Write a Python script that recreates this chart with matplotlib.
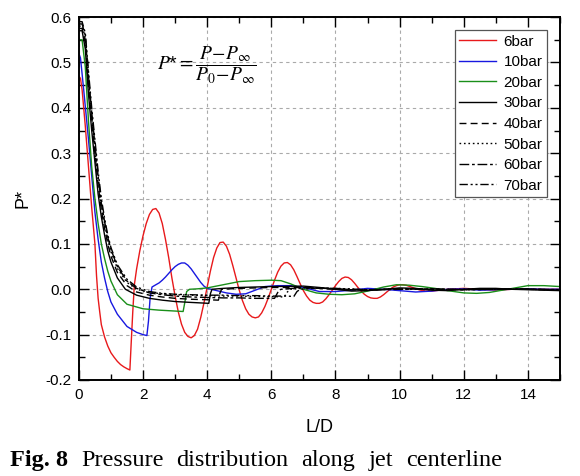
import matplotlib.pyplot as plt
from matplotlib.ticker import MultipleLocator, FormatStrFormatter

plt.rcParams['font.family'] = ['Liberation Sans', 'DejaVu Sans']
plt.rcParams['axes.unicode_minus'] = False
plt.rcParams['mathtext.fontset'] = 'stix'

# ---- data ----
x6 = [0.0, 0.05, 0.1, 0.15, 0.2, 0.25, 0.3, 0.35, 0.4, 0.45, 0.5, 0.55, 0.6, 0.65, 0.7, 0.8, 0.9, 1.0, 1.1,
      1.2, 1.3, 1.4, 1.5, 1.59, 1.63, 1.68, 1.73, 1.8, 1.9, 2.0, 2.1, 2.2, 2.3, 2.4, 2.5, 2.6, 2.7, 2.8, 2.9,
      3.0, 3.1, 3.2, 3.3, 3.4, 3.5, 3.6, 3.7, 3.8, 3.9, 4.0, 4.1, 4.2, 4.3, 4.4, 4.5, 4.6, 4.7, 4.8, 4.9,
      5.0, 5.1, 5.2, 5.3, 5.4, 5.5, 5.6, 5.7, 5.8, 5.9, 6.0, 6.1, 6.2, 6.3, 6.4, 6.5, 6.6, 6.7, 6.8, 6.9,
      7.0, 7.1, 7.2, 7.3, 7.4, 7.5, 7.6, 7.7, 7.8, 7.9, 8.0, 8.1, 8.2, 8.3, 8.4, 8.5, 8.6, 8.7, 8.8, 8.9,
      9.0, 9.1, 9.2, 9.3, 9.4, 9.5, 9.6, 9.7, 9.8, 9.9, 10.0, 10.1, 10.2, 10.4, 10.6, 10.8, 11.0, 11.5,
      12.0, 12.5, 13.0, 13.5, 14.0, 14.5, 15.0]
y6 = [0.47, 0.465, 0.44, 0.40, 0.36, 0.315, 0.27, 0.225, 0.18, 0.14, 0.10, 0.03, -0.02, -0.05, -0.078,
      -0.105, -0.125, -0.14, -0.15, -0.159, -0.166, -0.171, -0.175, -0.178, -0.12, -0.05, 0.01, 0.045,
      0.085, 0.118, 0.145, 0.165, 0.176, 0.178, 0.168, 0.145, 0.11, 0.07, 0.025, -0.015, -0.05, -0.077,
      -0.095, -0.104, -0.107, -0.102, -0.088, -0.062, -0.03, 0.005, 0.04, 0.07, 0.091, 0.103, 0.104, 0.095,
      0.077, 0.052, 0.025, -0.002, -0.025, -0.043, -0.055, -0.061, -0.063, -0.061, -0.052, -0.038, -0.02,
      0.0, 0.02, 0.038, 0.051, 0.058, 0.059, 0.054, 0.043, 0.028, 0.012, -0.003, -0.015, -0.024, -0.029,
      -0.031, -0.031, -0.028, -0.021, -0.012, -0.002, 0.008, 0.017, 0.024, 0.027, 0.026, 0.021, 0.013,
      0.004, -0.004, -0.011, -0.016, -0.019, -0.02, -0.02, -0.017, -0.012, -0.006, 0.0, 0.005, 0.008, 0.01,
      0.01, 0.009, 0.004, -0.001, -0.004, -0.004, 0.0, 0.002, 0.0, -0.002, 0.0, 0.001, 0.0, 0.0]

x10 = [0.0, 0.05, 0.15, 0.3, 0.4, 0.5, 0.6, 0.7, 0.8, 0.9, 1.0, 1.2, 1.5, 1.8, 2.0, 2.12, 2.17, 2.22, 2.28,
       2.4, 2.5, 2.6, 2.7, 2.8, 2.9, 3.0, 3.1, 3.2, 3.3, 3.4, 3.5, 3.6, 3.7, 3.8, 3.9, 4.0, 4.3, 4.6, 4.9,
       5.2, 5.5, 5.8, 6.2, 6.6, 7.0, 7.5, 8.0, 8.5, 9.0, 9.5, 10.0, 10.5, 11.0, 11.5, 12.0, 12.5, 13.0,
       13.5, 14.0, 14.5, 15.0]
y10 = [0.52, 0.51, 0.44, 0.33, 0.25, 0.17, 0.11, 0.06, 0.025, -0.005, -0.028, -0.055, -0.082, -0.095, -0.1,
       -0.102, -0.07, -0.02, 0.005, 0.01, 0.014, 0.02, 0.027, 0.035, 0.043, 0.05, 0.055, 0.058, 0.058, 0.053,
       0.045, 0.035, 0.025, 0.015, 0.007, 0.002, -0.003, -0.008, -0.011, -0.01, -0.002, 0.006, 0.008, 0.008,
       0.004, -0.005, -0.005, -0.002, 0.002, 0.0, -0.003, -0.006, -0.004, 0.0, 0.001, -0.002, -0.001, 0.0,
       0.001, 0.0, 0.0]

x20 = [0.0, 0.1, 0.2, 0.3, 0.4, 0.5, 0.6, 0.7, 0.8, 0.9, 1.0, 1.2, 1.5, 2.0, 2.5, 3.0, 3.25, 3.3, 3.36, 3.45,
       3.7, 4.0, 4.5, 5.0, 5.5, 6.0, 6.3, 6.6, 7.0, 7.4, 7.8, 8.2, 8.6, 9.0, 9.5, 9.9, 10.3, 10.7, 11.1,
       11.5, 12.0, 12.4, 12.8, 13.2, 13.6, 14.0, 14.5, 15.0]
y20 = [0.55, 0.55, 0.49, 0.37, 0.27, 0.2, 0.145, 0.1, 0.068, 0.04, 0.018, -0.012, -0.033, -0.043, -0.046,
       -0.048, -0.049, -0.03, -0.005, 0.0, 0.001, 0.003, 0.01, 0.017, 0.019, 0.02, 0.019, 0.012, 0.0, -0.008,
       -0.011, -0.012, -0.01, -0.004, 0.005, 0.01, 0.009, 0.006, 0.002, -0.003, -0.008, -0.009, -0.007,
       -0.002, 0.003, 0.008, 0.008, 0.006]

x30 = [0.0, 0.1, 0.2, 0.3, 0.4, 0.5, 0.6, 0.7, 0.8, 0.9, 1.0, 1.2, 1.45, 1.8, 2.2, 2.6, 3.0, 3.5, 4.05, 4.1,
       4.15, 4.5, 5.0, 6.0, 7.0, 7.5, 8.0, 8.5, 9.0, 9.5, 10.0, 10.5, 11.0, 11.5, 12.0, 12.5, 13.0, 13.5,
       14.0, 14.5, 15.0]
y30 = [0.57, 0.57, 0.53, 0.43, 0.35, 0.28, 0.21, 0.16, 0.12, 0.085, 0.06, 0.025, 0.0, -0.013, -0.02, -0.024,
       -0.027, -0.029, -0.031, -0.01, 0.0, 0.002, 0.004, 0.006, 0.007, 0.004, 0.0, -0.004, -0.003, 0.0,
       0.003, 0.002, -0.002, -0.003, 0.0, 0.002, 0.002, 0.0, -0.001, -0.002, -0.003]

x40 = [0.0, 0.1, 0.2, 0.3, 0.4, 0.5, 0.6, 0.7, 0.8, 0.9, 1.0, 1.2, 1.5, 1.8, 2.2, 2.6, 3.0, 3.5, 4.0, 4.35,
       4.4, 4.45, 5.0, 6.0, 7.0, 8.0, 9.0, 10.0, 11.0, 12.0, 13.0, 14.0, 15.0]
y40 = [0.575, 0.575, 0.545, 0.45, 0.37, 0.3, 0.23, 0.175, 0.135, 0.1, 0.073, 0.037, 0.008, -0.006, -0.013,
       -0.017, -0.02, -0.022, -0.023, -0.024, -0.008, 0.0, 0.002, 0.004, 0.004, 0.0, -0.002, 0.001, 0.0,
       -0.001, 0.001, 0.0, -0.002]

x50 = [0.0, 0.1, 0.2, 0.3, 0.4, 0.5, 0.6, 0.7, 0.8, 0.9, 1.0, 1.2, 1.5, 1.8, 2.2, 2.6, 3.0, 3.5, 4.0, 4.5,
       5.0, 5.5, 6.0, 6.4, 6.5, 6.6, 7.0, 8.0, 9.0, 10.0, 11.0, 12.0, 13.0, 14.0, 15.0]
y50 = [0.58, 0.58, 0.555, 0.46, 0.38, 0.31, 0.24, 0.185, 0.145, 0.11, 0.083, 0.046, 0.015, 0.0, -0.007,
       -0.01, -0.012, -0.013, -0.014, -0.015, -0.015, -0.016, -0.016, -0.017, -0.006, 0.0, 0.003, 0.002,
       -0.001, 0.001, -0.001, 0.0, 0.001, 0.0, -0.001]

x60 = [0.0, 0.1, 0.2, 0.3, 0.4, 0.5, 0.6, 0.7, 0.8, 0.9, 1.0, 1.2, 1.5, 1.8, 2.2, 2.6, 3.0, 3.5, 4.0, 4.5,
       5.0, 5.5, 6.1, 6.2, 6.3, 7.0, 8.0, 9.0, 10.0, 11.0, 12.0, 13.0, 14.0, 15.0]
y60 = [0.585, 0.585, 0.56, 0.47, 0.39, 0.32, 0.25, 0.19, 0.15, 0.115, 0.088, 0.05, 0.018, 0.002, -0.008,
       -0.012, -0.015, -0.017, -0.018, -0.019, -0.019, -0.02, -0.02, -0.007, 0.0, 0.004, 0.001, -0.002,
       0.0, 0.001, -0.001, 0.0, 0.001, -0.002]

x70 = [0.0, 0.1, 0.2, 0.3, 0.4, 0.5, 0.6, 0.7, 0.8, 0.9, 1.0, 1.2, 1.5, 1.8, 2.2, 2.6, 3.0, 3.5, 4.0, 4.5,
       5.0, 5.5, 6.0, 6.5, 6.7, 6.8, 6.9, 7.5, 8.0, 9.0, 10.0, 11.0, 12.0, 13.0, 14.0, 15.0]
y70 = [0.59, 0.59, 0.565, 0.48, 0.4, 0.33, 0.26, 0.2, 0.157, 0.12, 0.092, 0.054, 0.022, 0.005, -0.005,
       -0.009, -0.011, -0.012, -0.013, -0.013, -0.014, -0.014, -0.015, -0.015, -0.016, -0.005, 0.0, 0.003,
       0.002, -0.001, 0.0, 0.001, -0.001, 0.0, 0.0, -0.001]

labels = ['6bar', '10bar', '20bar', '30bar', '40bar', '50bar', '60bar', '70bar']
caption = ['Fig. 8', 'Pressure', 'distribution', 'along', 'jet', 'centerline']

fig = plt.figure(figsize=(5.8, 4.76), dpi=100)
ax = fig.add_axes([0.136, 0.2017, 0.8295, 0.7623])

lw = 1.0
ax.plot(x6, y6, color='#e8191b', lw=lw, label=labels[0])
ax.plot(x10, y10, color='#1818e0', lw=lw, label=labels[1])
ax.plot(x20, y20, color='#1a8f1a', lw=lw, label=labels[2])
ax.plot(x30, y30, color='black', lw=lw, label=labels[3])
ax.plot(x40, y40, color='black', lw=lw, ls=(0, (5, 3)), label=labels[4])
ax.plot(x50, y50, color='black', lw=lw, ls=(0, (1.2, 2)), label=labels[5])
ax.plot(x60, y60, color='black', lw=lw, ls=(0, (7, 2, 2, 2)), label=labels[6])
ax.plot(x70, y70, color='black', lw=lw, ls=(0, (6, 2, 1.5, 2, 1.5, 2)), label=labels[7])

ax.set_xlim(0, 15)
ax.set_ylim(-0.2, 0.6)
ax.xaxis.set_major_locator(MultipleLocator(2))
ax.xaxis.set_minor_locator(MultipleLocator(1))
ax.yaxis.set_major_locator(MultipleLocator(0.1))
ax.yaxis.set_minor_locator(MultipleLocator(0.05))
ax.yaxis.set_major_formatter(FormatStrFormatter('%.1f'))
ax.tick_params(which='both', direction='in', top=True, right=True, width=1.0)
ax.tick_params(which='major', length=7, labelsize=11)
ax.tick_params(which='minor', length=4)
ax.tick_params(axis='x', pad=6)
ax.tick_params(axis='y', pad=5)
for s in ax.spines.values():
    s.set_linewidth(1.4)

ax.grid(True, which='major', ls=(0, (3, 3)), color='#aaaaaa', lw=0.8)

ax.set_xlabel('L/D', fontsize=13, labelpad=12)
ax.set_ylabel('P*', fontsize=13, labelpad=10)

leg = ax.legend(loc='upper right', fontsize=11, handlelength=2.4, labelspacing=0.43,
                borderaxespad=0.85, fancybox=False, framealpha=1, handletextpad=0.5,
                borderpad=0.3)
leg.get_frame().set_edgecolor('#555555')
leg.get_frame().set_linewidth(0.9)

ax.text(4.0, 0.494, r'$P$*$=\dfrac{P\!-\!P_{\infty}}{P_0\!-\!P_{\infty}}$',
        fontsize=14, ha='center', va='center')

# caption, justified between x=10 and x=502 px
W, H = 580.0, 476.0
left, right, base = 10.0, 502.0, 466.0
words = []
for i, w in enumerate(caption):
    t = fig.text(0, 1 - base / H, w, fontsize=17.5, family='Liberation Serif',
                 fontweight='bold' if i == 0 else 'normal', ha='left', va='baseline')
    words.append(t)
r = fig.canvas.get_renderer()
widths = [t.get_window_extent(r).width for t in words]
gap = (right - left - sum(widths)) / (len(words) - 1)
pos = left
for t, wd in zip(words, widths):
    t.set_x(pos / W)
    pos += wd + gap

fig.savefig('out.png', dpi=100)
